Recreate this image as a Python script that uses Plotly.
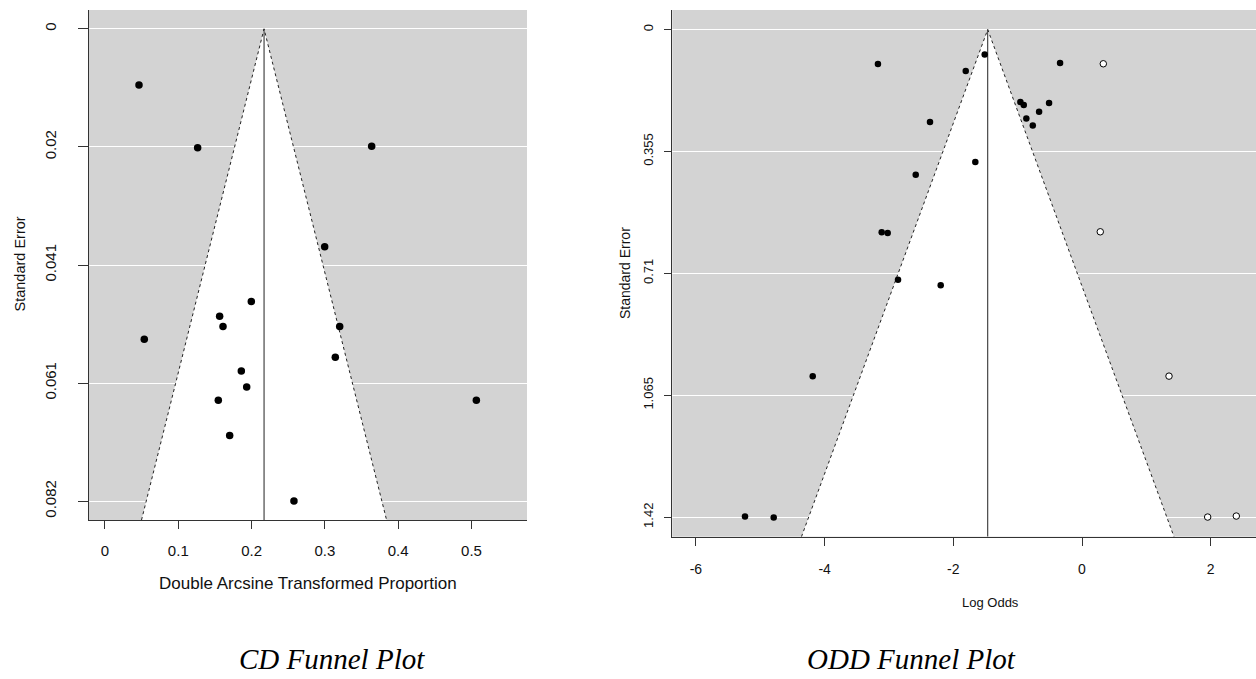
import plotly.graph_objects as go

W, H = 1256, 679

# ---- CD: double arcsine transformed proportions ----
cd_est = 0.217
cd_yi = [0.0464, 0.1264, 0.3638, 0.2997, 0.1996, 0.1564, 0.1610, 0.0536,
         0.3202, 0.3142, 0.1860, 0.1933, 0.1546, 0.5066, 0.1701, 0.2578]
cd_se = [0.00975, 0.02066, 0.02037, 0.03784, 0.04735, 0.0499, 0.0517, 0.0539,
         0.0517, 0.0570, 0.0594, 0.0622, 0.0645, 0.0645, 0.0706, 0.0820]
cd_se_max = 0.082
cd_xticks = [0, 0.1, 0.2, 0.3, 0.4, 0.5]
cd_xlabels = ["0", "0.1", "0.2", "0.3", "0.4", "0.5"]
cd_yticks = [0, 0.0205, 0.041, 0.0615, 0.082]
cd_ylabels = ["0", "0.02", "0.041", "0.061", "0.082"]

# ---- ODD: log odds, observed and filled studies ----
odd_est = -1.465
odd_yi = [-3.171, -1.512, -1.807, -0.341, -0.958, -0.905, -0.512, -0.667,
          -0.865, -0.765, -2.362, -1.658, -2.584, -3.113, -3.020, -2.859,
          -2.196, -4.185, -5.237, -4.791]
odd_se = [0.1001, 0.0730, 0.1205, 0.0972, 0.2110, 0.2197, 0.2139, 0.2393,
          0.2588, 0.2793, 0.2693, 0.3860, 0.4231, 0.5904, 0.5924, 0.7286,
          0.7450, 1.0096, 1.4180, 1.4210]
odd_fill_yi = [0.331, 0.284, 1.352, 1.953, 2.398]
odd_fill_se = [0.0998, 0.5890, 1.0093, 1.4196, 1.4167]
odd_se_max = 1.42
odd_xticks = [-6, -4, -2, 0, 2]
odd_xlabels = ["-6", "-4", "-2", "0", "2"]
odd_yticks = [0, 0.355, 0.71, 1.065, 1.42]
odd_ylabels = ["0", "0.355", "0.71", "1.065", "1.42"]

SANS = "Liberation Sans, Arial, sans-serif"
SERIF = "Liberation Serif, Times New Roman, serif"
AXIS_COL = "#333333"


def px_x(px):
    return px / W


def px_y(py):
    return 1 - py / H


fig = go.Figure()


def add_funnel(xa, ya, est, se_max):
    ybot = se_max * 1.04
    half = 1.96 * ybot
    # white pseudo-confidence region
    fig.add_trace(go.Scatter(
        x=[est - half, est, est + half, est - half],
        y=[ybot, 0, ybot, ybot],
        mode="lines", fill="toself", fillcolor="white",
        line=dict(width=0), hoverinfo="skip", showlegend=False,
        xaxis=xa, yaxis=ya))
    # dotted funnel edges
    fig.add_trace(go.Scatter(
        x=[est - half, est, est + half], y=[ybot, 0, ybot],
        mode="lines", line=dict(color="#222222", width=1, dash="dot"),
        hoverinfo="skip", showlegend=False, xaxis=xa, yaxis=ya))
    # pooled estimate line
    fig.add_trace(go.Scatter(
        x=[est, est], y=[0, ybot], mode="lines",
        line=dict(color="#222222", width=1),
        hoverinfo="skip", showlegend=False, xaxis=xa, yaxis=ya))


add_funnel("x", "y", cd_est, cd_se_max)
fig.add_trace(go.Scatter(
    x=cd_yi, y=cd_se, mode="markers",
    marker=dict(color="black", size=7.5, line=dict(width=0)),
    showlegend=False, xaxis="x", yaxis="y"))

add_funnel("x2", "y2", odd_est, odd_se_max)
fig.add_trace(go.Scatter(
    x=odd_yi, y=odd_se, mode="markers",
    marker=dict(color="black", size=6.5, line=dict(width=0)),
    showlegend=False, xaxis="x2", yaxis="y2"))
fig.add_trace(go.Scatter(
    x=odd_fill_yi, y=odd_fill_se, mode="markers",
    marker=dict(color="white", size=6.5, line=dict(color="black", width=1)),
    showlegend=False, xaxis="x2", yaxis="y2"))

common_x = dict(showgrid=False, zeroline=False, showline=True, linecolor=AXIS_COL,
                linewidth=1, ticks="outside", tickcolor=AXIS_COL, tickwidth=1)
common_y = dict(showgrid=True, gridcolor="white", gridwidth=1, zeroline=False,
                showline=True, linecolor=AXIS_COL, linewidth=1, ticks="outside",
                tickcolor=AXIS_COL, tickwidth=1, tickangle=-90)

fig.update_layout(
    width=W, height=H,
    margin=dict(l=0, r=0, t=0, b=0),
    paper_bgcolor="white", plot_bgcolor="#D3D3D3",
    showlegend=False,
    xaxis=dict(domain=[px_x(89), px_x(527)], range=[-0.0218, 0.5757],
               tickvals=cd_xticks, ticktext=cd_xlabels, ticklen=8,
               ticklabelstandoff=9,
               tickfont=dict(family=SANS, size=15, color="#111"),
               anchor="y", **common_x),
    yaxis=dict(domain=[px_y(520), px_y(10)],
               range=[cd_se_max * 1.04, -cd_se_max * 0.04],
               tickvals=cd_yticks, ticktext=cd_ylabels, ticklen=10,
               ticklabelstandoff=16,
               tickfont=dict(family=SANS, size=15, color="#111"),
               anchor="x", **common_y),
    xaxis2=dict(domain=[px_x(672.3), 1.0], range=[-6.367, 2.704],
                tickvals=odd_xticks, ticktext=odd_xlabels, ticklen=8,
                ticklabelstandoff=11,
                tickfont=dict(family=SANS, size=14, color="#111"),
                anchor="y2", **common_x),
    yaxis2=dict(domain=[px_y(536.7), px_y(10)],
                range=[odd_se_max * 1.04, -odd_se_max * 0.04],
                tickvals=odd_yticks, ticktext=odd_ylabels, ticklen=7,
                ticklabelstandoff=6,
                tickfont=dict(family=SANS, size=13, color="#111"),
                anchor="x2", **common_y),
)

annots = [
    dict(text="Standard Error", x=px_x(20), y=px_y(264.5), textangle=-90,
         font=dict(family=SANS, size=14.5, color="#111")),
    dict(text="Double Arcsine Transformed Proportion", x=px_x(308), y=px_y(583),
         font=dict(family=SANS, size=17, color="#111")),
    dict(text="Standard Error", x=px_x(625), y=px_y(273), textangle=-90,
         font=dict(family=SANS, size=14, color="#111")),
    dict(text="Log Odds", x=px_x(990), y=px_y(602.5),
         font=dict(family=SANS, size=13, color="#111")),
    dict(text="<i>CD Funnel Plot</i>", x=px_x(332), y=px_y(659),
         font=dict(family=SERIF, size=29, color="black")),
    dict(text="<i>ODD Funnel Plot</i>", x=px_x(911.5), y=px_y(659),
         font=dict(family=SERIF, size=29, color="black")),
]
for a in annots:
    fig.add_annotation(xref="paper", yref="paper", showarrow=False,
                       xanchor="center", yanchor="middle", **a)

fig.write_html("out.html")
